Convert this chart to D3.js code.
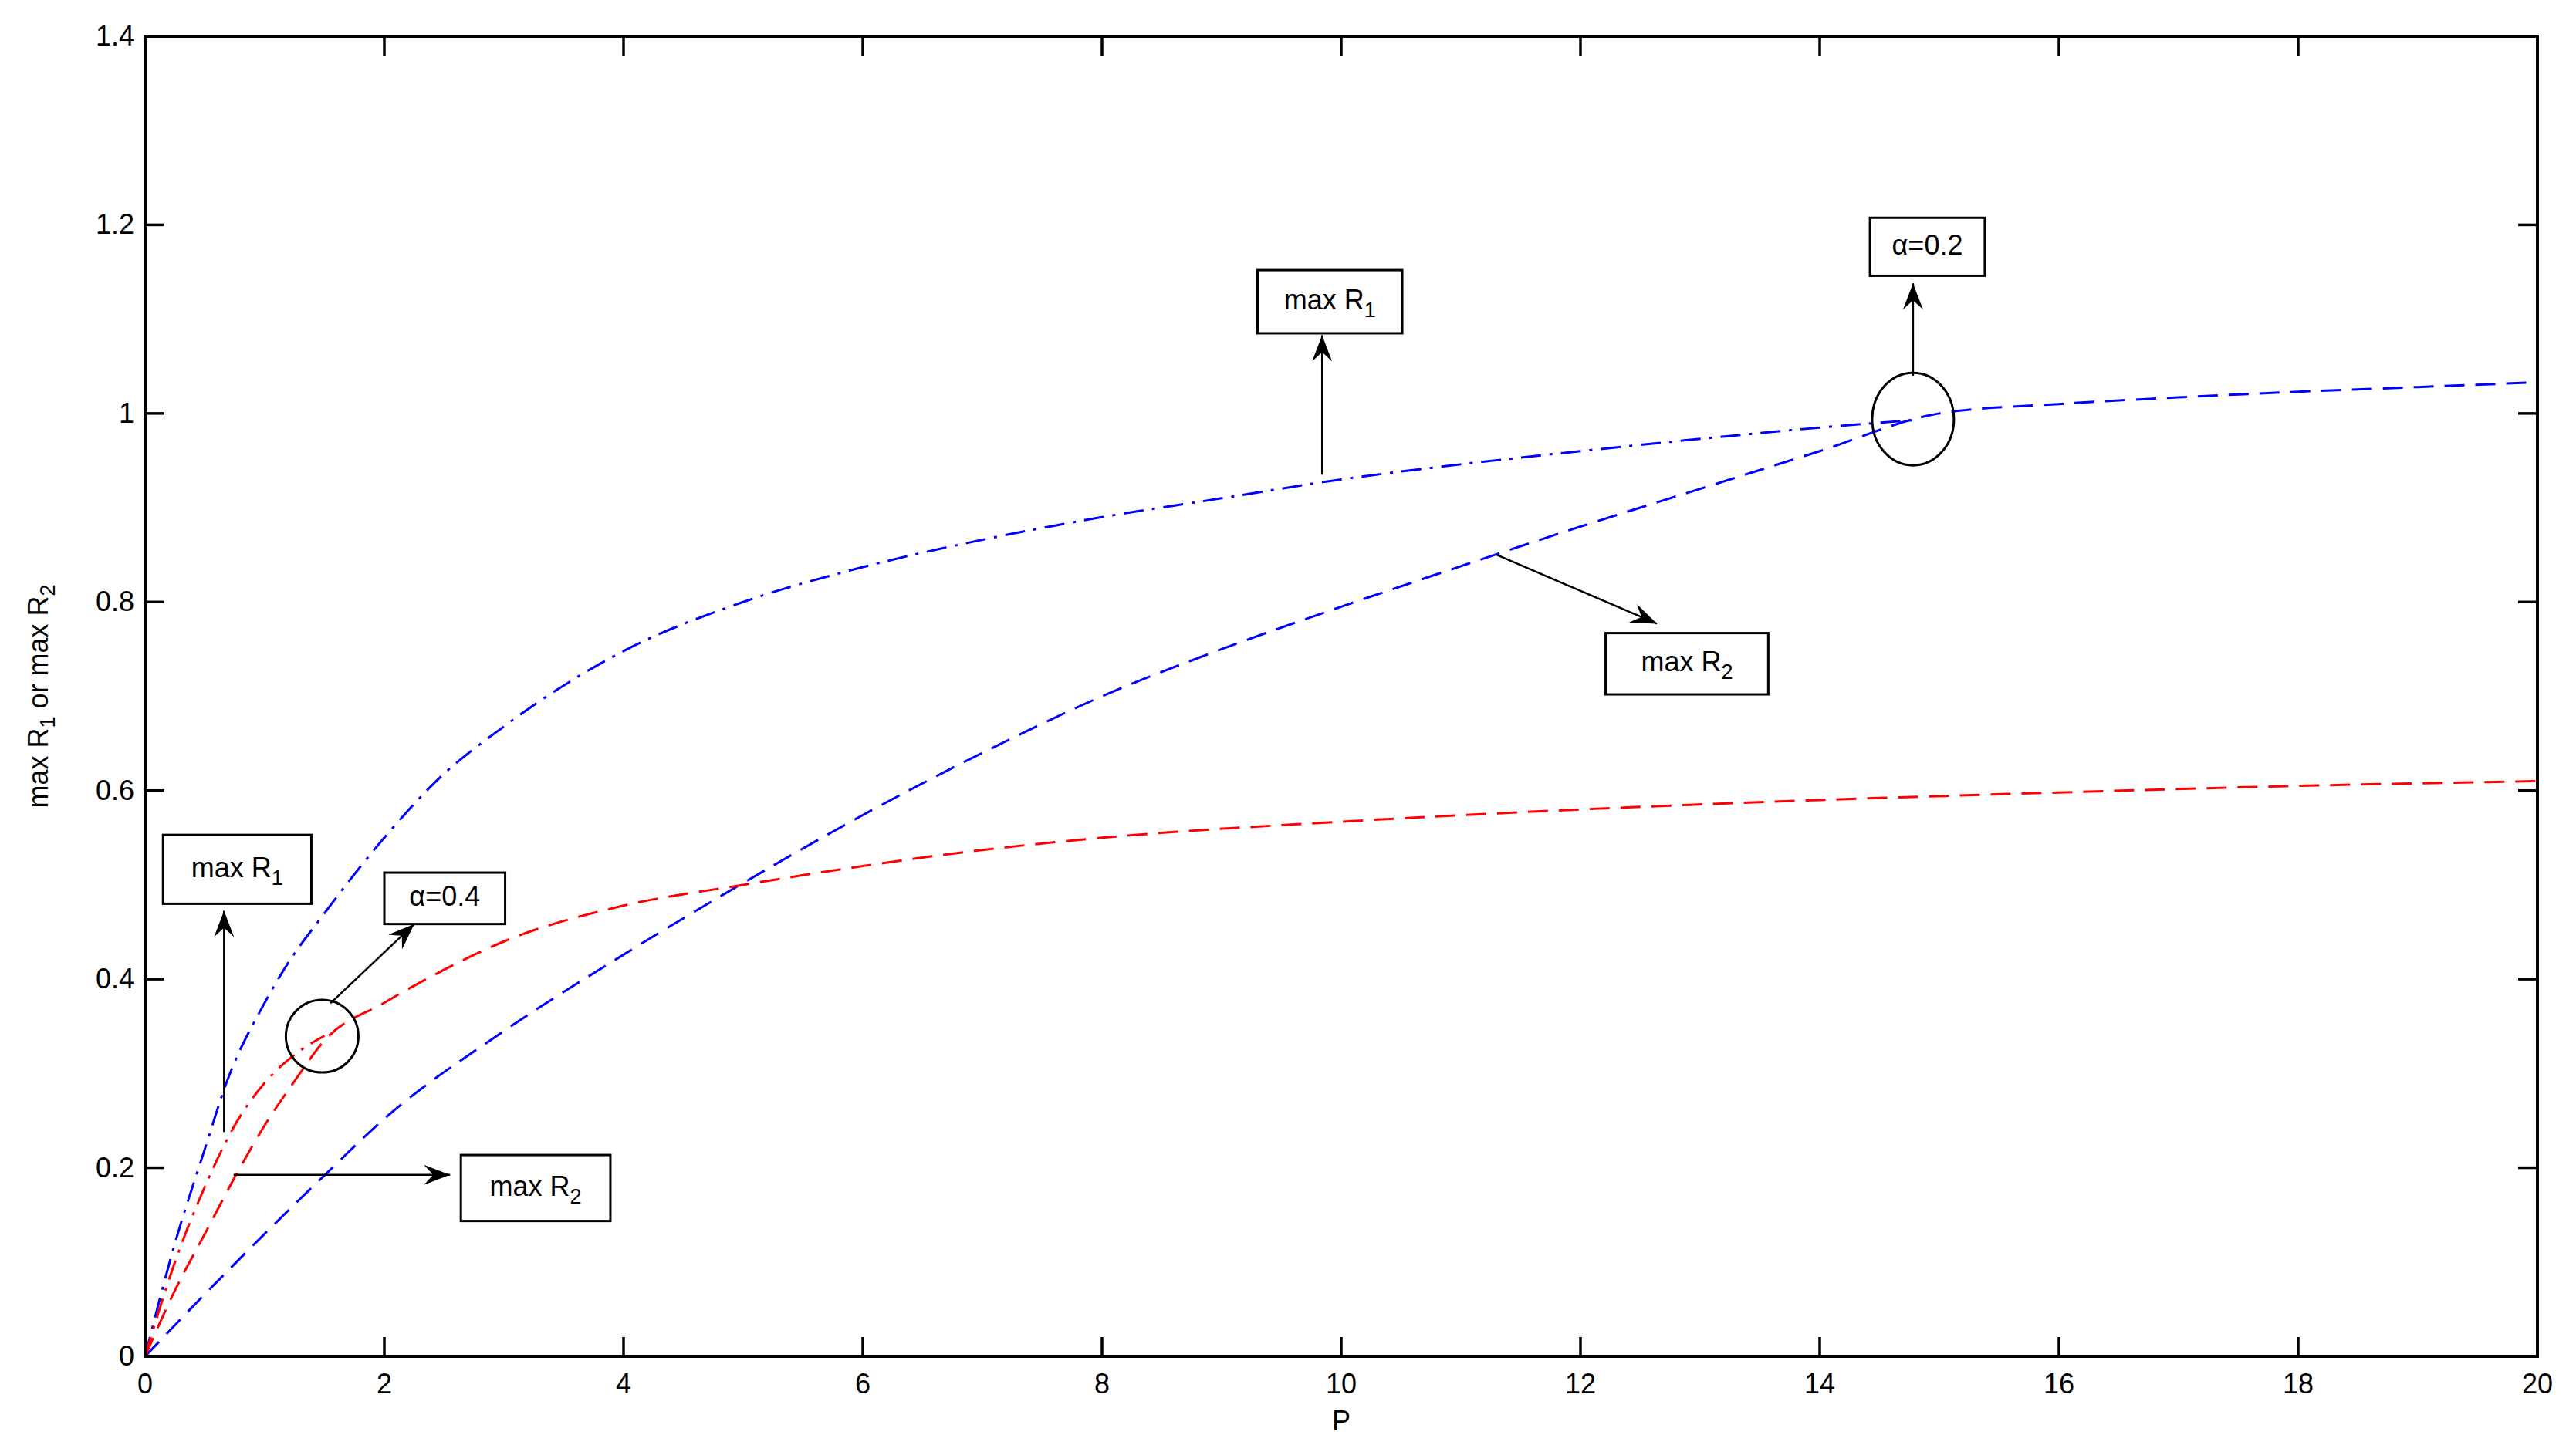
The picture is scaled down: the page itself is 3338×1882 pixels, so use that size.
<!DOCTYPE html>
<html>
<head>
<meta charset="utf-8">
<title>max R1 or max R2 vs P</title>
<script src="https://d3js.org/d3.v7.min.js"></script>
<style>
body{margin:0;background:#fff;}
text{font-family:"Liberation Sans",Arial,sans-serif;fill:#000;}
</style>
</head>
<body>
<div id="chart"></div>
<script>
/* data */
var xTicks = [0,2,4,6,8,10,12,14,16,18,20];
var yTicks = [0,0.2,0.4,0.6,0.8,1,1.2,1.4];
/* alpha = 0.2, blue */
var blueR1P = [0,0.25,0.5,0.68,1,1.16,1.5,2,2.45,3,4,5,6,7,8,9,10,11,12,13,14,14.8];
var blueR1V = [0,0.12,0.22,0.29,0.375,0.41,0.47,0.55,0.612,0.668,0.748,0.80,0.837,0.866,0.89,0.91,0.93,0.946,0.96,0.973,0.985,0.993];
var blueR2P = [0,0.5,1,1.5,2,3,4,5,6,7,8,9,10,11,12,13,14,15,16,17,18,19,20];
var blueR2V = [0,0.066,0.13,0.192,0.252,0.345,0.426,0.502,0.574,0.64,0.7,0.75,0.795,0.838,0.88,0.92,0.96,1.0,1.01,1.017,1.023,1.028,1.033];
/* alpha = 0.4, red */
var redR1P = [0,0.25,0.5,0.75,1,1.25,1.5];
var redR1V = [0,0.1,0.18,0.245,0.29,0.32,0.34];
var redR2P = [0,0.25,0.5,0.75,1,1.25,1.5,2,2.5,3,4,5,6,7,8,10,12,14,16,18,20];
var redR2V = [0,0.07,0.13,0.19,0.245,0.292,0.335,0.375,0.41,0.44,0.478,0.50,0.52,0.537,0.55,0.567,0.58,0.59,0.598,0.605,0.61];

var W = 3338, H = 1882;
var m = {l:188, r:50, t:47, b:124};
var svg = d3.select("#chart").append("svg").attr("width",W).attr("height",H);
var x = d3.scaleLinear().domain([0,20]).range([m.l, W-m.r]);
var y = d3.scaleLinear().domain([0,1.4]).range([H-m.b, m.t]);
var fs = 36, sfs = 27, tick = 25;

/* curves */
function zip(p,v){ return p.map(function(d,i){ return [d,v[i]]; }); }
var line = d3.line().curve(d3.curveMonotoneX).x(function(d){return x(d[0]);}).y(function(d){return y(d[1]);});
var DASH = "26,14", DASHDOT = "26,11,4,11";
function curve(data,color,dash){
	svg.append("path").attr("d",line(data)).attr("fill","none")
		.attr("stroke",color).attr("stroke-width",3).attr("stroke-dasharray",dash);
}
curve(zip(blueR1P,blueR1V),"#0000ff",DASHDOT);
curve(zip(blueR2P,blueR2V),"#0000ff",DASH);
curve(zip(redR1P,redR1V),"#ff0000",DASHDOT);
curve(zip(redR2P,redR2V),"#ff0000",DASH);

/* frame and ticks (matlab style, inward on all sides) */
svg.append("rect").attr("x",x(0)).attr("y",y(1.4)).attr("width",x(20)-x(0)).attr("height",y(0)-y(1.4))
	.attr("fill","none").attr("stroke","#000").attr("stroke-width",4);
var ax = svg.append("g").attr("stroke","#000").attr("stroke-width",3.5);
xTicks.forEach(function(t){
	ax.append("line").attr("x1",x(t)).attr("x2",x(t)).attr("y1",y(0)).attr("y2",y(0)-tick);
	ax.append("line").attr("x1",x(t)).attr("x2",x(t)).attr("y1",y(1.4)).attr("y2",y(1.4)+tick);
	svg.append("text").attr("x",x(t)).attr("y",y(0)+48).attr("text-anchor","middle").attr("font-size",fs).text(t);
});
yTicks.forEach(function(t){
	ax.append("line").attr("y1",y(t)).attr("y2",y(t)).attr("x1",x(0)).attr("x2",x(0)+tick);
	ax.append("line").attr("y1",y(t)).attr("y2",y(t)).attr("x1",x(20)).attr("x2",x(20)-tick);
	svg.append("text").attr("x",x(0)-14).attr("y",y(t)+12).attr("text-anchor","end").attr("font-size",fs).text(t);
});

/* axis titles */
svg.append("text").attr("x",(x(0)+x(20))/2).attr("y",H-28).attr("text-anchor","middle").attr("font-size",fs).text("P");
var yl = svg.append("text").attr("transform","translate(62,"+((y(0)+y(1.4))/2)+") rotate(-90)")
	.attr("text-anchor","middle").attr("font-size",fs);
yl.append("tspan").text("max R");
yl.append("tspan").attr("dy",9).attr("font-size",sfs).text("1");
yl.append("tspan").attr("dy",-9).text(" or max R");
yl.append("tspan").attr("dy",9).attr("font-size",sfs).text("2");

/* annotations */
svg.append("defs").append("marker").attr("id","ah").attr("viewBox","0 0 34 26").attr("refX",34).attr("refY",13)
	.attr("markerWidth",34).attr("markerHeight",26).attr("markerUnits","userSpaceOnUse").attr("orient","auto")
	.append("path").attr("d","M0,0 L34,13 L0,26 L12,13 Z").attr("fill","#000");
function arrow(p0,v0,p1,v1){
	svg.append("line").attr("x1",x(p0)).attr("y1",y(v0)).attr("x2",x(p1)).attr("y2",y(v1))
		.attr("stroke","#000").attr("stroke-width",2.5).attr("marker-end","url(#ah)");
}
function box(p0,v0,p1,v1,main,sub){
	svg.append("rect").attr("x",x(p0)).attr("y",y(v0)).attr("width",x(p1)-x(p0)).attr("height",y(v1)-y(v0))
		.attr("fill","#fff").attr("stroke","#000").attr("stroke-width",3);
	var t = svg.append("text").attr("x",(x(p0)+x(p1))/2).attr("y",(y(v0)+y(v1))/2+10)
		.attr("text-anchor","middle").attr("font-size",fs);
	t.append("tspan").text(main);
	if(sub){ t.append("tspan").attr("dy",10).attr("font-size",sfs).text(sub); }
}
function ellipse(p,v,rx,ry){
	svg.append("ellipse").attr("cx",x(p)).attr("cy",y(v)).attr("rx",rx).attr("ry",ry)
		.attr("fill","none").attr("stroke","#000").attr("stroke-width",3);
}
box(9.30,1.152,10.51,1.085,"max R","1");
arrow(9.84,0.935,9.84,1.083);
box(14.42,1.2075,15.38,1.146,"\u03b1=0.2");
arrow(14.78,1.04,14.78,1.138);
ellipse(14.78,0.994,53,60);
box(12.21,0.767,13.57,0.702,"max R","2");
arrow(11.3,0.85,12.64,0.777);
box(0.15,0.553,1.39,0.48,"max R","1");
arrow(0.66,0.238,0.66,0.4725);
box(2.0,0.513,3.01,0.4585,"\u03b1=0.4");
arrow(1.55,0.3745,2.25,0.4585);
ellipse(1.48,0.3395,47,47);
box(2.64,0.2135,3.89,0.1435,"max R","2");
arrow(0.74,0.1925,2.55,0.1925);
</script>
</body>
</html>
